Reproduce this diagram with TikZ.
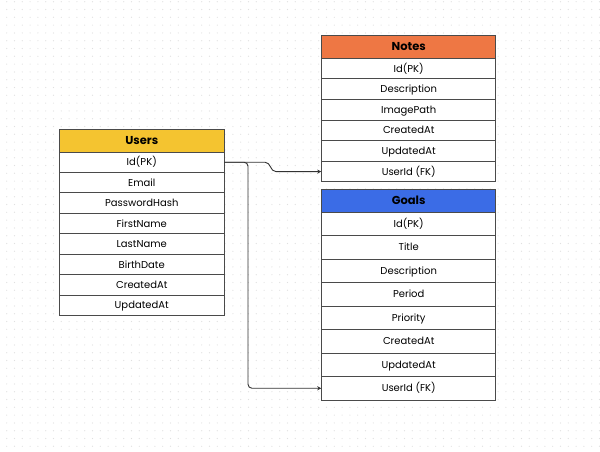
\documentclass[tikz,border=0pt]{standalone}
\usepackage{fontspec}
\setmainfont{Poppins}
\usetikzlibrary{arrows.meta}
\definecolor{usersc}{HTML}{F4C430}
\definecolor{notesc}{HTML}{EE7744}
\definecolor{goalsc}{HTML}{3B6CE6}
\definecolor{bordc}{HTML}{4A4A4A}
\definecolor{dotc}{HTML}{E0E0E0}
\definecolor{linec}{HTML}{333333}
\tikzset{
  cell/.style={draw=bordc, line width=0.9pt, fill=white, inner sep=0pt, anchor=center, text height=7pt, text depth=0pt, font=\fontsize{10}{12}\selectfont},
  head/.style={cell, text height=8pt, text depth=0pt, font=\fontsize{11.5}{13}\selectfont\bfseries},
  conn/.style={draw=linec, line width=0.9pt, -{Stealth[length=4pt,width=4pt]}}
}
\begin{document}
\begin{tikzpicture}[x=1pt,y=-1pt]
\useasboundingbox (0,0) rectangle (600,451);
\fill[white] (0,0) rectangle (600,451);
\foreach \i in {0,...,76} {
  \foreach \j in {0,...,57} {
    \fill[dotc] (6.7+7.8*\i, 1.7+7.8*\j) circle (0.6);
  }
}
% Users
\node[head, fill=usersc, minimum width=164.5, minimum height=23] (uh) at (141.75,140.5) {Users};
\foreach \t [count=\k] in {Id(PK),Email,PasswordHash,FirstName,LastName,BirthDate,CreatedAt,UpdatedAt} {
  \node[cell, minimum width=164.5, minimum height=20.46] (u\k) at (141.75,{152+20.46*(\k-0.5)}) {\t};
}
% Notes
\node[head, fill=notesc, minimum width=174, minimum height=23] (nh) at (408.7,46.8) {Notes};
\foreach \t [count=\k] in {Id(PK),Description,ImagePath,CreatedAt,UpdatedAt,UserId (FK)} {
  \node[cell, minimum width=174, minimum height=20.6] (n\k) at (408.7,{58.3+20.6*(\k-0.5)}) {\t};
}
% Goals
\node[head, fill=goalsc, minimum width=174, minimum height=23.3] (gh) at (408.7,200.65) {Goals};
\foreach \t [count=\k] in {Id(PK),Title,Description,Period,Priority,CreatedAt,UpdatedAt,UserId (FK)} {
  \node[cell, minimum width=174, minimum height=23.46] (g\k) at (408.7,{212.3+23.46*(\k-0.5)}) {\t};
}
% connectors
\coordinate (c1) at (265,0);
\coordinate (c2) at (276,0);
\coordinate (b) at (248,0);
\draw[conn] (u1.east) -- (c1 |- u1.east) .. controls ([xshift=6]c1 |- u1.east) and ([xshift=-6]c2 |- n6.west) .. (c2 |- n6.west) -- (n6.west);
\draw[conn, rounded corners=4] (u1.east) -| (b |- g8.west) -- (g8.west);
\end{tikzpicture}
\end{document}
